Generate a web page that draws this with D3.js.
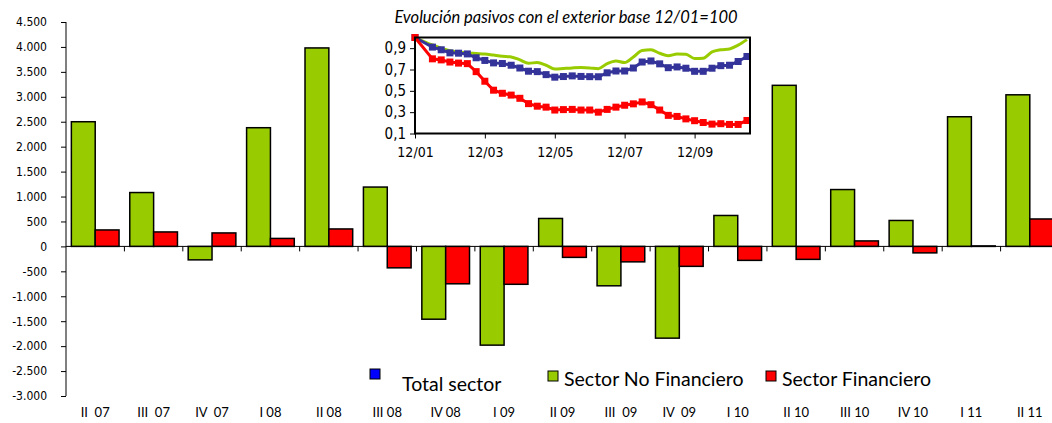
<!DOCTYPE html>
<html>
<head>
<meta charset="utf-8">
<script src="https://cdn.jsdelivr.net/npm/d3@7"></script>
<style>
 body { margin:0; background:#ffffff; }
 text { font-family:"DejaVu Sans Condensed","DejaVu Sans",sans-serif; fill:#000; }
 .legend text { font-family:Lato,"Liberation Sans",sans-serif; }
</style>
</head>
<body>
<script>
// main chart data
var quarters = ["II  07","III  07","IV  07","I 08","II 08","III 08","IV 08","I 09","II 09",
                "III  09","IV  09","I 10","II 10","III 10","IV 10","I 11","II 11"];
var noFinanciero = [2500,1080,-270,2380,3980,1190,-1460,-1980,560,-790,-1840,620,3230,1140,520,2600,3040];
var financiero   = [330,290,270,160,350,-430,-750,-760,-220,-310,-400,-280,-260,110,-130,10,550];
var yTicks = [4500,4000,3500,3000,2500,2000,1500,1000,500,0,-500,-1000,-1500,-2000,-2500,-3000];

// inset data (12/01 = 1)
var insetDates = ["2001-12","2002-06","2002-09","2002-12","2003-03","2003-06","2003-09","2003-12",
  "2004-03","2004-06","2004-09","2004-12","2005-03","2005-06","2005-09","2005-12",
  "2006-03","2006-06","2006-09","2006-12","2007-03","2007-06","2007-09","2007-12",
  "2008-03","2008-06","2008-09","2008-12","2009-03","2009-06","2009-09","2009-12",
  "2010-03","2010-06","2010-09","2010-12","2011-03","2011-06"];
var insetTotal = [1.0,.91,.885,.856,.853,.846,.81,.785,.762,.756,.74,.714,.684,.68,.652,.628,.634,.64,
  .635,.633,.632,.669,.686,.686,.714,.77,.78,.753,.717,.724,.712,.683,.683,.712,.736,.74,.775,.822];
var insetNoFin = [1.0,.93,.90,.875,.865,.855,.85,.845,.835,.825,.818,.79,.758,.766,.74,.705,.71,.715,
  .718,.715,.708,.755,.78,.765,.818,.878,.885,.852,.83,.845,.843,.803,.806,.865,.885,.893,.928,.98];
var insetFin = [1.0,.80,.79,.77,.76,.755,.68,.59,.506,.477,.46,.43,.38,.356,.347,.32,.324,.326,
  .32,.32,.30,.326,.347,.365,.378,.396,.37,.32,.27,.26,.237,.22,.203,.188,.192,.185,.185,.222];
var insetTickDates = ["2001-12","2003-12","2005-12","2007-12","2009-12"];
var insetYTicks = [0.1,0.3,0.5,0.7,0.9];

var green = "#99cc00", red = "#ff0000", blue = "#333399";

var es = d3.formatLocale({decimal:",", thousands:".", grouping:[3], currency:["","€"], minus:"-"});
var fmtInt = es.format(",d");
var fmtDec = es.format(".1f");
var parse = d3.utcParse("%Y-%m");

var svg = d3.select("body").append("svg")
    .attr("width", 1052)
    .attr("height", 423);

// scales
var x0 = d3.scaleBand().domain(quarters).range([66, 1059]);
var x1 = d3.scaleBand().domain(["nf","f"]).range([0, x0.bandwidth()]).paddingOuter(0.225);
var y = d3.scaleLinear().domain([-3000, 4500]).range([396, 22]);

// bars
var groups = svg.selectAll("g.cat").data(quarters)
  .enter().append("g")
    .attr("class", "cat")
    .attr("transform", function(d) { return "translate(" + x0(d) + ",0)"; });

groups.append("rect")
    .attr("x", x1("nf"))
    .attr("width", x1.bandwidth())
    .attr("y", function(d, i) { return y(Math.max(0, noFinanciero[i])); })
    .attr("height", function(d, i) { return Math.abs(y(noFinanciero[i]) - y(0)); })
    .style("fill", green).style("stroke", "#000").style("stroke-width", 1.5);

groups.append("rect")
    .attr("x", x1("f"))
    .attr("width", x1.bandwidth())
    .attr("y", function(d, i) { return y(Math.max(0, financiero[i])); })
    .attr("height", function(d, i) { return Math.abs(y(financiero[i]) - y(0)); })
    .style("fill", red).style("stroke", "#000").style("stroke-width", 1.5);

// y axis
var yAxis = svg.append("g")
    .attr("transform", "translate(66,0)")
    .call(d3.axisLeft(y).tickValues(yTicks).tickFormat(fmtInt).tickSize(5).tickPadding(14));
yAxis.select(".domain").attr("d", "M0," + y(4500) + "V" + y(-3000));
yAxis.selectAll("text").style("font-size", "12px");

// zero line with category ticks
svg.append("line")
    .attr("x1", 66).attr("x2", 1059)
    .attr("y1", y(0)).attr("y2", y(0))
    .style("stroke", "#000").style("stroke-width", 1);
svg.selectAll("line.ctick").data(quarters.slice(1))
  .enter().append("line")
    .attr("class", "ctick")
    .attr("x1", function(d) { return x0(d); })
    .attr("x2", function(d) { return x0(d); })
    .attr("y1", y(0)).attr("y2", y(0) + 5)
    .style("stroke", "#000");

// category labels
svg.selectAll("text.clabel").data(quarters)
  .enter().append("text")
    .attr("class", "clabel")
    .attr("x", function(d) { return x0(d) + x0.bandwidth() / 2; })
    .attr("y", 417)
    .attr("text-anchor", "middle")
    .style("font-family", "Lato, 'Liberation Sans', sans-serif")
    .style("font-size", "13px")
    .style("white-space", "pre")
    .text(function(d) { return d; });

// inset
var ix = d3.scaleUtc().domain([parse("2001-12"), Date.UTC(2011, 6, 3)]).range([415, 750]);
var iy = d3.scaleLinear().domain([0.1, 1.0]).range([133.5, 37.5]);

svg.append("text")
    .attr("x", 566).attr("y", 23)
    .attr("text-anchor", "middle")
    .style("font-family", "Lato, 'Liberation Sans', sans-serif")
    .style("font-style", "italic")
    .style("font-size", "16.5px")
    .text("Evolución pasivos con el exterior base 12/01=100");

var iyAxis = svg.append("g")
    .attr("transform", "translate(415,0)")
    .call(d3.axisLeft(iy).tickValues(insetYTicks).tickFormat(fmtDec).tickSize(5).tickPadding(4));
iyAxis.select(".domain").remove();
iyAxis.selectAll("text").style("font-size", "15px");

var ixAxis = svg.append("g")
    .attr("transform", "translate(0,133.5)")
    .call(d3.axisBottom(ix).tickValues(insetTickDates.map(parse))
      .tickFormat(d3.utcFormat("%m/%y")).tickSize(5).tickPadding(9));
ixAxis.select(".domain").remove();
ixAxis.selectAll("text").style("font-size", "14px");

function seriesPoints(vals) {
  return vals.map(function(v, i) { return {date: parse(insetDates[i]), v: v}; });
}

var lineStraight = d3.line()
    .x(function(d) { return ix(d.date); })
    .y(function(d) { return iy(d.v); });
var lineSmooth = d3.line()
    .curve(d3.curveMonotoneX)
    .x(function(d) { return ix(d.date); })
    .y(function(d) { return iy(d.v); });

svg.append("path").datum(seriesPoints(insetNoFin))
    .attr("d", lineSmooth)
    .style("fill", "none").style("stroke", green).style("stroke-width", 3);

[[insetTotal, blue], [insetFin, red]].forEach(function(s) {
  var pts = seriesPoints(s[0]);
  svg.append("path").datum(pts)
      .attr("d", lineStraight)
      .style("fill", "none").style("stroke", s[1]).style("stroke-width", 3);
  svg.append("g").selectAll("rect").data(pts)
    .enter().append("rect")
      .attr("x", function(d) { return ix(d.date) - 3.5; })
      .attr("y", function(d) { return iy(d.v) - 3.5; })
      .attr("width", 7).attr("height", 7)
      .style("fill", s[1]);
});

svg.append("rect")
    .attr("x", 415).attr("y", 37.5)
    .attr("width", 335).attr("height", 96)
    .style("fill", "none").style("stroke", "#000").style("stroke-width", 2);

// legend
var legendItems = [
  {name:"Total sector", color:"#0000ff", sx:370, sy:369, tx:402, ty:391},
  {name:"Sector No Financiero", color:green, sx:548, sy:371, tx:564, ty:386},
  {name:"Sector Financiero", color:red, sx:766, sy:371, tx:782, ty:386}
];
var legend = svg.append("g").attr("class", "legend");
legend.selectAll("rect").data(legendItems)
  .enter().append("rect")
    .attr("x", function(d) { return d.sx; })
    .attr("y", function(d) { return d.sy; })
    .attr("width", 10).attr("height", 10)
    .style("fill", function(d) { return d.color; })
    .style("stroke", "#000").style("stroke-width", 1);
legend.selectAll("text").data(legendItems)
  .enter().append("text")
    .attr("x", function(d) { return d.tx; })
    .attr("y", function(d) { return d.ty; })
    .style("font-size", "19.5px")
    .text(function(d) { return d.name; });
</script>
</body>
</html>
